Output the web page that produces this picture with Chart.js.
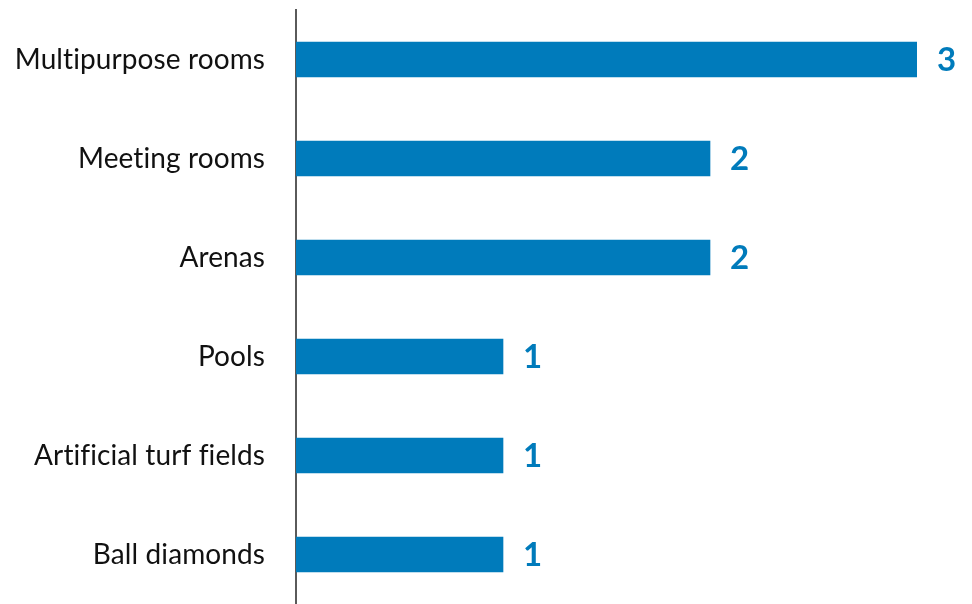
<!DOCTYPE html>
<html>
<head>
<meta charset="utf-8">
<script src="https://cdn.jsdelivr.net/npm/chart.js@4"></script>
<style>
  html, body { margin: 0; padding: 0; background: #fff; }
  #wrap { width: 972px; height: 604px; }
</style>
</head>
<body>
<div id="wrap"><canvas id="grafica"></canvas></div>
<script>
const categorias = [
    'Multipurpose rooms',
    'Meeting rooms',
    'Arenas',
    'Pools',
    'Artificial turf fields',
    'Ball diamonds'
];
const valores = [3, 2, 2, 1, 1, 1];

const azul = '#007bbb';
const fuente = 'Lato, "Open Sans", sans-serif';

// Sin ligaduras (ti, fi) en los textos del canvas
const sinLigaduras = {
    id: 'sinLigaduras',
    beforeDraw(chart) {
        chart.ctx.letterSpacing = '0.1px';
    }
};

// Etiquetas de valor a la derecha de cada barra
const etiquetasValor = {
    id: 'etiquetasValor',
    afterDatasetsDraw(chart) {
        const { ctx } = chart;
        const meta = chart.getDatasetMeta(0);
        ctx.save();
        ctx.fillStyle = azul;
        ctx.font = 'bold 33px ' + fuente;
        ctx.textAlign = 'left';
        ctx.textBaseline = 'middle';
        meta.data.forEach((bar, i) => {
            ctx.fillText(String(valores[i]), bar.x + 20, bar.y + 1);
        });
        ctx.restore();
    }
};

new Chart(document.getElementById('grafica'), {
    type: 'bar',
    data: {
        labels: categorias,
        datasets: [{
            data: valores,
            backgroundColor: azul,
            borderWidth: 0,
            barThickness: 35
        }]
    },
    options: {
        indexAxis: 'y',
        responsive: true,
        maintainAspectRatio: false,
        animation: false,
        layout: { padding: { top: 10, right: 55, bottom: 0, left: 0 } },
        scales: {
            x: {
                display: false,
                min: 0,
                max: 3
            },
            y: {
                // ancho fijo del eje y sin relleno extra arriba/abajo
                afterFit: scale => {
                    scale.width = 296;
                    scale.paddingTop = 0;
                    scale.paddingBottom = 0;
                },
                grid: { display: false, drawTicks: false },
                border: { display: true, color: '#5a5a5a', width: 2 },
                ticks: {
                    color: '#111',
                    padding: 31,
                    font: { family: fuente, size: 28 }
                }
            }
        },
        plugins: {
            legend: { display: false },
            tooltip: { enabled: false }
        }
    },
    plugins: [sinLigaduras, etiquetasValor]
});
</script>
</body>
</html>
